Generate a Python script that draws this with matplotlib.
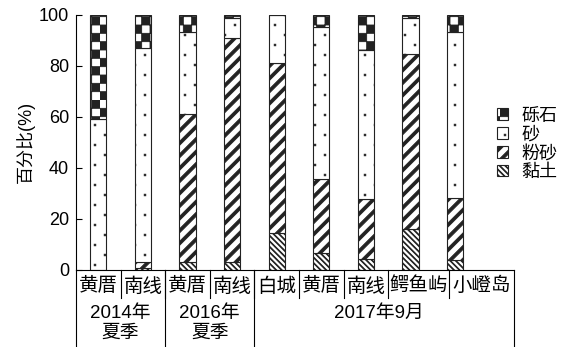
import warnings
import numpy as np
import matplotlib
matplotlib.use("Agg")
import matplotlib.pyplot as plt
import matplotlib.hatch as mhatch
from matplotlib.path import Path

warnings.filterwarnings("ignore")

# data (percent)
sites = ["黄厝", "南线", "黄厝", "南线", "白城", "黄厝", "南线", "鳄鱼屿", "小嶝岛"]
groups = ["2014年\n夏季", "2016年\n夏季", "2017年9月"]
clay = [0, 0.5, 3.0, 3.0, 14.4, 6.3, 4.3, 15.9, 3.9]
silt = [0, 2.6, 57.9, 88.0, 66.5, 29.2, 23.3, 68.5, 24.0]
sand = [58.9, 83.9, 32.3, 7.6, 19.1, 59.8, 58.5, 14.2, 65.4]
gravel = [41.1, 13.0, 6.8, 1.4, 0, 4.7, 13.9, 1.4, 6.7]
comp_names = ["黏土", "粉砂", "砂", "砾石"]


# custom hatches: checkerboard (gravel), thick stripes (silt), sparse dots (sand),
# thin back stripes (clay)
class CheckerHatch(mhatch.HatchPatternBase):
    def __init__(self, hatch, density):
        self.n = 12 if "c" in hatch else 0
        self.num_vertices = (self.n * self.n // 2) * 5

    def set_vertices_and_codes(self, vertices, codes):
        s = 1.0 / self.n
        k = 0
        for i in range(self.n):
            for j in range(self.n):
                if (i + j) % 2:
                    continue
                vertices[k:k + 5] = [(i * s, j * s), ((i + 1) * s, j * s),
                                     ((i + 1) * s, (j + 1) * s), (i * s, (j + 1) * s),
                                     (i * s, j * s)]
                codes[k:k + 5] = [Path.MOVETO, Path.LINETO, Path.LINETO,
                                  Path.LINETO, Path.CLOSEPOLY]
                k += 5


class StripeHatch(mhatch.HatchPatternBase):
    char = "s"
    n_lines = 8
    frac = 0.33
    slope = 1

    def __init__(self, hatch, density):
        self.n = self.n_lines if self.char in hatch else 0
        self.offsets = np.arange(-2 * self.n - 2, 2 * self.n + 3) / self.n if self.n else []
        self.num_vertices = len(self.offsets) * 5

    def set_vertices_and_codes(self, vertices, codes):
        t = self.frac / self.n
        m = self.slope
        k = 0
        for c in self.offsets:
            vertices[k:k + 5] = [(-1, -m + c), (2, 2 * m + c), (2, 2 * m + c + t),
                                 (-1, -m + c + t), (-1, -m + c)]
            codes[k:k + 5] = [Path.MOVETO, Path.LINETO, Path.LINETO,
                              Path.LINETO, Path.CLOSEPOLY]
            k += 5


class BackStripeHatch(StripeHatch):
    char = "b"
    n_lines = 18
    frac = 0.22
    slope = -1


class DotHatch(mhatch.HatchPatternBase):
    def __init__(self, hatch, density):
        self.n = 5 if "d" in hatch else 0
        self.num_vertices = (2 * self.n * self.n) * 5

    def set_vertices_and_codes(self, vertices, codes):
        d = 0.008
        k = 0
        for r in range(2 * self.n):
            y = (r + 0.5) / (2 * self.n)
            for j in range(self.n):
                x = (j + 0.25 + 0.5 * (r % 2)) / self.n
                vertices[k:k + 5] = [(x - d, y - d), (x + d, y - d), (x + d, y + d),
                                     (x - d, y + d), (x - d, y - d)]
                codes[k:k + 5] = [Path.MOVETO, Path.LINETO, Path.LINETO,
                                  Path.LINETO, Path.CLOSEPOLY]
                k += 5


mhatch._hatch_types.extend([CheckerHatch, StripeHatch, BackStripeHatch, DotHatch])

plt.rcParams["font.family"] = ["Liberation Sans", "Noto Sans CJK SC"]
plt.rcParams["hatch.linewidth"] = 0.6
plt.rcParams["hatch.color"] = "black"

fig = plt.figure(figsize=(5.67, 3.47), dpi=100)
ax = fig.add_axes([0.134, 0.2233, 0.7725, 0.7343])

x = np.arange(len(sites))
w = 0.36
hatches = ["b", "s", "d", "c"]
bottom = np.zeros(len(sites))
handles = []
for vals, name, h in zip([clay, silt, sand, gravel], comp_names, hatches):
    bars = ax.bar(x, vals, w, bottom=bottom, color="white", edgecolor="#222222",
                  linewidth=0.8, hatch=h, label=name)
    handles.append(bars)
    bottom = bottom + np.array(vals)

ax.set_xlim(-0.5, 9.32)
ax.set_ylim(0, 100)
ax.set_yticks([0, 20, 40, 60, 80, 100])
ax.tick_params(axis="y", direction="in", length=4, width=0.8, labelsize=13, pad=5)
ax.set_xticks([])
ax.spines["top"].set_visible(False)
ax.spines["right"].set_visible(False)
ax.spines["left"].set_linewidth(0.8)
ax.spines["bottom"].set_linewidth(0.8)
ax.set_ylabel("百分比(%)", fontsize=13, labelpad=3)

# category table under the axis
tr = ax.get_xaxis_transform()
cell_edges = [-0.5, 0.5, 1.5, 2.5, 3.5, 4.5, 5.5, 6.5, 7.86, 9.32]
group_edges = [-0.5, 1.5, 3.5, 9.32]
row1_bottom = -0.111
table_bottom = -0.31
for e in cell_edges[1:-1]:
    ax.plot([e, e], [0, row1_bottom], transform=tr, color="black", lw=0.8, clip_on=False)
for e in group_edges:
    ax.plot([e, e], [0, table_bottom], transform=tr, color="black", lw=0.8, clip_on=False)
for i, s in enumerate(sites):
    cx = (cell_edges[i] + cell_edges[i + 1]) / 2
    ax.text(cx, -0.066, s, transform=tr, ha="center", va="center", fontsize=14)
group_x = [0.5, 2.5, 6.3]
group_y = [-0.21, -0.21, -0.173]
for gx, gy, g in zip(group_x, group_y, groups):
    ax.text(gx, gy, g, transform=tr, ha="center", va="center", fontsize=13.5,
            linespacing=1.2)

ax.legend(handles=handles[::-1], loc="upper left", bbox_to_anchor=(0.8765, 0.69),
          bbox_transform=fig.transFigure, frameon=False, fontsize=13,
          borderpad=0, borderaxespad=0, handlelength=0.6, handleheight=0.6,
          handletextpad=0.75, labelspacing=0.1)

fig.savefig("out.png", dpi=100)
